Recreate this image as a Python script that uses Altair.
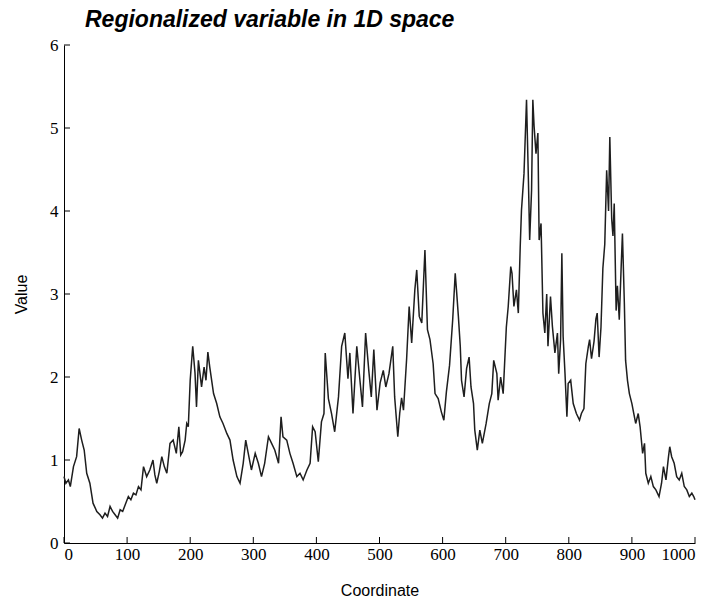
import altair as alt
import pandas as pd

coord = [0, 3, 7, 10, 15, 20, 24, 28, 32, 36, 41, 46, 52, 57, 61, 65, 69, 73, 77, 81,
         85, 89, 93, 97, 102, 106, 110, 114, 118, 122, 126, 131, 136, 141, 144, 147, 151, 155, 159, 163,
         168, 173, 178, 182, 185, 188, 192, 194.5, 197, 200, 204, 207.6, 210, 213, 218, 222, 225, 228, 231, 237,
         242, 247, 252, 258, 263, 268, 274, 279, 284, 288, 292, 297, 303, 308, 313, 318, 324, 329, 334, 340,
         344, 347, 353, 358, 363, 369, 374, 379, 385, 390, 394, 398, 403, 408, 412, 414, 419, 424, 429, 435,
         440, 445, 450, 453, 458, 464, 469, 473, 478, 483, 487, 491, 496, 501, 506, 510, 515, 521, 524, 529,
         532, 535, 538, 543, 547, 551, 556, 559, 563, 567, 572, 576, 580, 585, 588, 593, 598, 602, 606, 611,
         616, 620, 622, 625, 628, 630, 634, 638, 642, 645, 649, 651, 655, 659, 663, 669, 674, 678, 681, 686,
         688, 692, 696, 701, 704, 708, 710, 713, 717, 720, 723, 725, 729, 733, 736, 738, 741, 743, 745, 748,
         751, 753, 756, 759, 762, 765, 767, 771, 774, 778, 782, 784, 787, 789, 791, 794, 797, 799, 803, 807,
         812, 817, 820, 824, 827, 831, 833, 836, 840, 843, 845, 848, 851, 854, 857, 860, 863, 865, 868, 870,
         872, 875, 877, 880, 883, 885, 888, 890, 893, 896, 900, 903, 906, 910, 913, 917, 920, 922, 926, 930,
         934, 938, 943, 947, 950, 954, 958, 960, 963, 967, 971, 975, 979, 983, 987, 991, 995, 998, 1000]

value = [0.80, 0.72, 0.76, 0.68, 0.92, 1.04, 1.38, 1.24, 1.12, 0.84, 0.72, 0.48, 0.38, 0.34, 0.30, 0.36, 0.32, 0.44, 0.38, 0.34,
         0.30, 0.40, 0.38, 0.46, 0.56, 0.52, 0.60, 0.58, 0.68, 0.64, 0.92, 0.80, 0.88, 1.00, 0.82, 0.72, 0.86, 1.04, 0.92, 0.84,
         1.20, 1.24, 1.08, 1.40, 1.06, 1.10, 1.24, 1.44, 1.40, 1.96, 2.37, 2.05, 1.64, 2.20, 1.88, 2.12, 1.96, 2.30, 2.12, 1.80,
         1.68, 1.52, 1.44, 1.32, 1.24, 1.00, 0.80, 0.72, 0.96, 1.24, 1.08, 0.88, 1.08, 0.96, 0.80, 0.96, 1.28, 1.20, 1.12, 0.96,
         1.52, 1.28, 1.24, 1.08, 0.96, 0.80, 0.84, 0.76, 0.88, 0.96, 1.40, 1.34, 0.98, 1.46, 1.56, 2.29, 1.74, 1.56, 1.34, 1.76,
         2.37, 2.53, 1.98, 2.29, 1.56, 2.37, 1.96, 1.64, 2.53, 2.08, 1.76, 2.33, 1.60, 1.93, 2.08, 1.88, 2.04, 2.37, 1.76, 1.28,
         1.56, 1.75, 1.60, 2.22, 2.85, 2.41, 3.05, 3.29, 2.73, 2.65, 3.53, 2.57, 2.45, 2.16, 1.80, 1.74, 1.58, 1.48, 1.82, 2.14,
         2.69, 3.25, 3.05, 2.73, 2.37, 1.96, 1.76, 2.10, 2.24, 1.88, 1.68, 1.36, 1.12, 1.36, 1.20, 1.44, 1.68, 1.80, 2.20, 2.04,
         1.72, 2.00, 1.80, 2.60, 2.85, 3.33, 3.25, 2.85, 3.05, 2.77, 3.57, 4.01, 4.45, 5.34, 4.37, 3.65, 4.25, 5.34, 5.02, 4.69,
         4.94, 3.65, 3.85, 2.77, 2.53, 3.00, 2.37, 2.97, 2.61, 2.29, 2.53, 2.04, 2.45, 3.49, 2.49, 2.04, 1.52, 1.92, 1.96, 1.68,
         1.56, 1.48, 1.56, 1.62, 2.16, 2.37, 2.45, 2.22, 2.43, 2.70, 2.77, 2.24, 2.60, 3.31, 3.60, 4.49, 4.00, 4.89, 3.90, 3.70,
         4.09, 2.80, 3.10, 2.69, 3.33, 3.73, 2.90, 2.20, 1.96, 1.80, 1.68, 1.56, 1.44, 1.56, 1.40, 1.08, 1.20, 0.84, 0.72, 0.80,
         0.68, 0.64, 0.56, 0.72, 0.92, 0.76, 1.04, 1.16, 1.04, 0.96, 0.80, 0.76, 0.84, 0.68, 0.64, 0.56, 0.60, 0.56, 0.52]

x_ticks = [0, 100, 200, 300, 400, 500, 600, 700, 800, 900, 1000]
y_ticks = [0, 1, 2, 3, 4, 5, 6]

W, H = 631, 498

df = pd.DataFrame({"Coordinate": coord, "Value": value})
xs = alt.Scale(domain=[0, 1000], nice=False, zero=False)
ys = alt.Scale(domain=[0, 6], nice=False)

line = alt.Chart(df).mark_line(color="#1e1e1e", strokeWidth=1.5).encode(
    x=alt.X("Coordinate:Q", scale=xs,
            axis=alt.Axis(values=x_ticks, format="d", title="Coordinate", ticks=False, grid=False,
                          labelPadding=3, titlePadding=20)),
    y=alt.Y("Value:Q", scale=ys,
            axis=alt.Axis(values=y_ticks, format="d", title="Value", ticks=False, grid=False,
                          labelPadding=6, titlePadding=20)),
)

xt = alt.Chart(pd.DataFrame({"t": x_ticks})).mark_rule(color="black", strokeWidth=1).encode(
    x=alt.X("t:Q", scale=xs), y=alt.value(H), y2=alt.value(H - 6))
yt = alt.Chart(pd.DataFrame({"t": y_ticks})).mark_rule(color="black", strokeWidth=1).encode(
    y=alt.Y("t:Q", scale=ys), x=alt.value(0), x2=alt.value(6))

chart = alt.layer(line, xt, yt).properties(
    width=W, height=H,
    title=alt.TitleParams("Regionalized variable in 1D space", anchor="start", frame="group", dx=21,
                          font="Liberation Sans", fontSize=23, fontWeight="bold",
                          fontStyle="italic", color="black", offset=4),
    autosize=alt.AutoSizeParams(type="none"),
    padding={"left": 64, "top": 45, "right": 17, "bottom": 58},
).configure_view(stroke=None).configure_axis(
    domainColor="black", domainWidth=1,
    labelFont="Liberation Serif", labelFontSize=17, labelColor="black",
    titleFont="Liberation Sans", titleFontSize=16, titleFontWeight="normal", titleColor="black",
)

chart.save("out.html", embed_options={"renderer": "svg", "actions": False})
